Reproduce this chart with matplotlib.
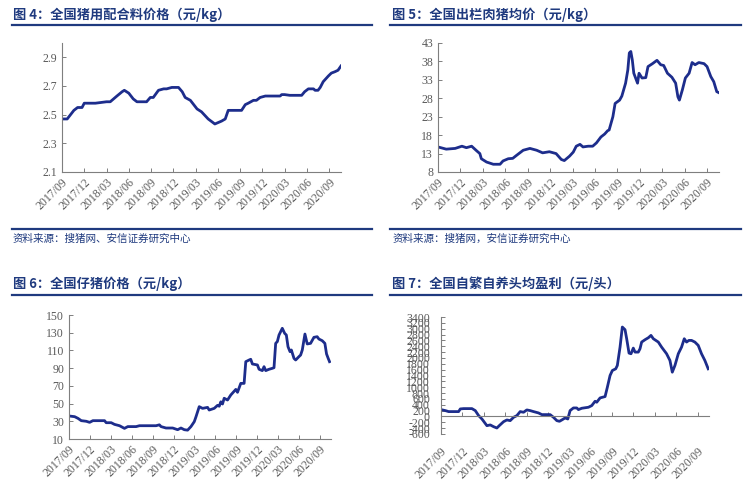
import matplotlib
matplotlib.use('Agg')
import matplotlib.pyplot as plt
from matplotlib.lines import Line2D

# x values are months since 2017/09
tick_labels = ['2017/09', '2017/12', '2018/03', '2018/06', '2018/09', '2018/12', '2019/03',
               '2019/06', '2019/09', '2019/12', '2020/03', '2020/06', '2020/09']

# fig 4: feed price (yuan/kg)
feed_m = [0, 0.7, 1.6, 2.1, 2.7, 3.0, 4.5, 6.0, 6.5, 7.4, 8.1, 8.4, 9.0, 9.6, 10.1, 11.4,
          11.9, 12.3, 13.0, 13.7, 14.1, 14.8, 15.7, 16.2, 16.6, 17.3, 18.2, 18.8, 19.7, 20.6,
          21.5, 22.0, 22.4, 24.2, 24.7, 25.1, 25.8, 26.2, 26.7, 27.4, 29.4, 29.6, 30.0, 30.7,
          32.3, 32.7, 33.2, 33.9, 34.1, 34.5, 34.8, 35.2, 35.9, 36.3, 36.8, 37.2, 37.6]
feed_v = [2.47, 2.47, 2.53, 2.55, 2.55, 2.58, 2.58, 2.59, 2.59, 2.63, 2.66, 2.67, 2.65, 2.61,
          2.59, 2.59, 2.62, 2.62, 2.67, 2.68, 2.68, 2.69, 2.69, 2.66, 2.62, 2.60, 2.54, 2.52,
          2.47, 2.435, 2.455, 2.47, 2.53, 2.53, 2.57, 2.58, 2.60, 2.60, 2.62, 2.63, 2.63, 2.64,
          2.64, 2.635, 2.635, 2.66, 2.68, 2.68, 2.67, 2.67, 2.69, 2.73, 2.77, 2.79, 2.80, 2.81,
          2.84]

# fig 5: live hog price (yuan/kg)
hog_m = [0, 1.1, 2.3, 3.2, 3.8, 4.5, 5.2, 5.6, 5.8, 6.5, 7.4, 8.3, 8.7, 9.4, 10.0, 10.5, 11.4,
         12.3, 13.2, 14.0, 14.9, 15.8, 16.5, 16.9, 17.6, 18.1, 18.5, 19.0, 19.4, 20.1, 20.7,
         21.2, 21.8, 22.3, 22.7, 22.9, 23.4, 23.7, 24.3, 24.6, 25.1, 25.4, 25.6, 25.8, 26.0,
         26.2, 26.7, 26.9, 27.3, 27.8, 28.1, 28.7, 29.3, 29.8, 30.2, 30.7, 31.3, 31.8, 32.1,
         32.3, 32.7, 33.1, 33.6, 34.0, 34.4, 34.9, 35.6, 36.0, 36.5, 36.9, 37.3, 37.6]
hog_v = [14.8, 14.2, 14.4, 15.0, 14.6, 15.0, 13.7, 13.0, 11.6, 10.7, 10.1, 10.1, 11.0, 11.6,
         11.7, 12.5, 13.9, 14.4, 13.9, 13.2, 13.5, 13.0, 11.4, 11.1, 12.3, 13.4, 15.0, 15.5,
         14.8, 15.0, 15.0, 15.9, 17.5, 18.3, 19.2, 19.4, 23.0, 26.6, 27.5, 28.6, 32.1, 35.7,
         40.3, 40.7, 38.4, 34.8, 32.1, 34.8, 33.5, 33.6, 36.6, 37.4, 38.3, 37.1, 36.9, 34.8,
         33.7, 32.1, 28.4, 27.5, 30.3, 33.5, 34.8, 37.7, 37.1, 37.7, 37.4, 36.6, 33.9, 32.5,
         29.8, 29.5]

# fig 6: piglet price (yuan/kg)
piglet_m = [0, 0.81, 1.29, 1.76, 2.48, 2.96, 3.43, 4.39, 5.10, 5.34, 6.06, 6.53, 7.25, 7.96,
            8.44, 9.63, 10.11, 12.49, 12.97, 13.21, 13.92, 14.88, 15.59, 16.07, 16.55, 17.02,
            17.50, 17.98, 18.22, 18.69, 19.17, 19.89, 20.12, 20.84, 21.32, 21.56, 21.79, 22.03,
            22.27, 22.75, 23.22, 23.94, 24.18, 24.65, 25.13, 25.37, 25.85, 26.08, 26.32, 27.04,
            27.28, 27.75, 27.99, 28.23, 28.70, 29.18, 29.42, 29.66, 29.90, 30.14, 30.61, 30.95,
            31.19, 31.43, 31.72, 31.91, 32.29, 32.53, 33.0, 33.24, 33.48, 33.86, 34.19, 34.67,
            35.15, 35.62, 35.86, 36.34, 36.72, 36.96, 37.20, 37.39]
piglet_v = [36.0, 35.2, 33.3, 30.7, 30.0, 28.8, 30.7, 30.7, 30.7, 28.4, 28.4, 26.5, 25.0, 22.0,
            24.0, 24.0, 25.0, 25.0, 26.0, 24.0, 22.4, 22.4, 20.5, 22.4, 20.5, 20.0, 24.0, 29.6,
            35.0, 46.5, 44.6, 45.7, 42.7, 44.6, 48.0, 47.0, 52.0, 49.5, 56.0, 54.0, 59.7, 66.0,
            62.7, 72.8, 72.8, 97.3, 99.2, 100.0, 94.7, 93.6, 88.7, 87.2, 91.7, 87.2, 88.7, 89.8,
            90.5, 118.0, 120.0, 127.4, 135.0, 129.3, 127.4, 114.2, 108.6, 110.5, 101.0, 99.2,
            103.0, 104.8, 110.5, 128.5, 117.3, 118.0, 124.8, 125.5, 122.9, 121.0, 118.0, 106.0,
            101.0, 97.3]

# fig 7: self-breeding profit per head (yuan/head)
profit_m = [0, 0.61, 1.07, 2.47, 2.71, 3.17, 4.34, 4.81, 5.28, 5.74, 6.44, 6.91, 7.38, 7.84,
            8.17, 8.78, 9.24, 9.71, 10.18, 10.64, 11.11, 11.58, 12.04, 12.51, 12.98, 13.68,
            14.15, 15.31, 15.78, 16.25, 16.62, 16.95, 17.41, 17.79, 18.11, 18.58, 19.05, 19.28,
            19.75, 20.68, 21.15, 21.62, 21.85, 22.32, 23.02, 23.34, 23.72, 24.04, 24.51, 24.74,
            25.12, 25.44, 25.82, 26.05, 26.38, 26.66, 26.98, 27.22, 27.68, 27.92, 28.15, 28.62,
            29.09, 29.46, 29.79, 30.49, 30.95, 31.65, 32.12, 32.45, 32.82, 33.29, 33.75, 34.13,
            34.45, 34.78, 35.15, 35.62, 36.09, 36.55, 37.02, 37.49]
profit_v = [234, 200, 166, 166, 257, 268, 268, 200, 28, -86, -315, -290, -350, -395, -315,
            -178, -120, -143, -29, 28, 166, 143, 223, 200, 166, 120, 63, 63, -29, -143, -166,
            -120, -52, -86, 200, 291, 291, 234, 280, 314, 371, 520, 486, 634, 680, 1000, 1400,
            1571, 1628, 1743, 2371, 3057, 2966, 2657, 2166, 2143, 2337, 2200, 2200, 2314, 2543,
            2623, 2691, 2771, 2657, 2543, 2371, 2143, 1914, 1514, 1743, 2143, 2371, 2657, 2543,
            2600, 2600, 2543, 2429, 2143, 1914, 1628]

W, H = 750, 494
NAVY = '#1f3a7f'
LINE = '#1d2d8c'
TICK = '#595959'
CJK = ['Noto Sans CJK SC', 'DejaVu Sans']


def box(left, top, right, bottom):
    return [left / W, 1 - bottom / H, (right - left) / W, (bottom - top) / H]


def hline(fig, x0, x1, y, lw=1.6):
    fig.add_artist(Line2D([x0 / W, x1 / W], [1 - y / H, 1 - y / H], color=NAVY, lw=lw,
                          transform=fig.transFigure))


def panel(fig, rect, xs, ys, yticks, ylim, zero_axis=False):
    ax = fig.add_axes(rect)
    ax.plot(xs, ys, color=LINE, lw=2.0, solid_joinstyle='round')
    ax.set_xlim(0, 37.6)
    ax.set_ylim(*ylim)
    for s in ['top', 'right']:
        ax.spines[s].set_visible(False)
    pad_x, pad_y = 3, 3.5
    if zero_axis:
        # x axis line crosses at zero, labels stay under the plot area
        ax.spines['bottom'].set_position(('data', 0))
        pad_x, pad_y = 21, 8
    for s in ['left', 'bottom']:
        ax.spines[s].set_color('#7f7f7f')
        ax.spines[s].set_linewidth(0.8)
    ax.set_yticks(yticks)
    ax.set_yticklabels([f'{t:g}' for t in yticks])
    ax.set_xticks(range(0, 37, 3))
    ax.set_xticklabels(tick_labels, rotation=45, ha='right', va='top', rotation_mode='anchor')
    ax.tick_params(axis='both', direction='in', length=3, width=0.7, color='#7f7f7f',
                   labelcolor=TICK)
    ax.tick_params(axis='x', pad=pad_x)
    ax.tick_params(axis='y', pad=pad_y)
    for lab in ax.get_xticklabels() + ax.get_yticklabels():
        lab.set_fontfamily('Liberation Serif')
        lab.set_fontsize(8.5)
    return ax


fig = plt.figure(figsize=(W / 100, H / 100), dpi=100)

# titles and rules
titles = [('图 4：全国猪用配合料价格（元/kg）', 13, 15),
          ('图 5：全国出栏肉猪均价（元/kg）', 392, 15),
          ('图 6：全国仔猪价格（元/kg）', 13, 284),
          ('图 7：全国自繁自养头均盈利（元/头）', 392, 284)]
for txt, x, y in titles:
    fig.text(x / W, 1 - y / H, txt, family=CJK, fontweight='bold', fontsize=9.5,
             color=NAVY, ha='left', va='center')
hline(fig, 12, 372, 25)
hline(fig, 390, 741, 25)
hline(fig, 12, 372, 295)
hline(fig, 390, 741, 295)

# source notes
hline(fig, 12, 372, 229)
hline(fig, 390, 741, 229)
fig.text(13 / W, 1 - 239 / H, '资料来源：搜猪网、安信证券研究中心', family=CJK, fontsize=7.6,
         style='italic', color=NAVY, ha='left', va='center')
fig.text(393 / W, 1 - 239 / H, '资料来源：搜猪网，安信证券研究中心', family=CJK, fontsize=7.6,
         style='italic', color=NAVY, ha='left', va='center')

panel(fig, box(62, 43, 341, 172), feed_m, feed_v, [2.1, 2.3, 2.5, 2.7, 2.9], (2.1, 3.0))
panel(fig, box(438, 43, 719, 172), hog_m, hog_v, list(range(8, 44, 5)), (8, 43))
panel(fig, box(69, 315, 331, 439), piglet_m, piglet_v, list(range(10, 151, 20)), (10, 150))
panel(fig, box(441, 317, 709, 434), profit_m, profit_v, list(range(-600, 3401, 200)),
      (-600, 3400), zero_axis=True)

fig.savefig('out.png', dpi=100, facecolor='white')
